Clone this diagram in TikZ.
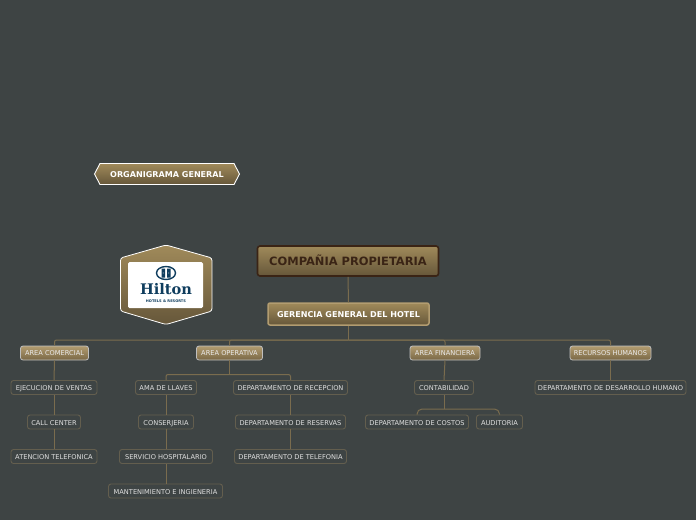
\documentclass[tikz,border=0pt]{standalone}
\usepackage{fontspec}
\usetikzlibrary{shapes.geometric}
\setmainfont{DejaVu Sans}
\newfontfamily\logofont{DejaVu Serif}
\definecolor{bgc}{HTML}{3E4444}
\definecolor{goldt}{HTML}{A08A5A}
\definecolor{goldb}{HTML}{66573A}
\definecolor{goldl}{HTML}{B29C70}
\definecolor{goldm}{HTML}{7A6846}
\definecolor{linec}{HTML}{7A6C4E}
\definecolor{kidb}{HTML}{635E4E}
\definecolor{darkb}{HTML}{3A2415}
\definecolor{navy}{HTML}{0F3D5E}
\tikzset{
  gold/.style={top color=goldt,bottom color=goldb,inner sep=0pt},
  conn/.style={draw=linec,line width=1pt,rounded corners=2pt},
  top/.style={gold,draw=darkb,line width=1.6pt,rounded corners=2.5pt,text=darkb,text height=9.1pt,text depth=0pt,font=\bfseries\fontsize{11.45}{13}\selectfont},
  mgr/.style={gold,draw=goldl,line width=1.5pt,rounded corners=2pt,text=white,text height=7pt,text depth=0pt,font=\bfseries\fontsize{8.05}{10}\selectfont},
  area/.style={top color=goldl,bottom color=goldm,draw=black!25,line width=.8pt,rounded corners=2.5pt,inner sep=0pt,text=white!92!black,text height=5.6pt,text depth=0pt,font=\fontsize{6.65}{8}\selectfont},
  kid/.style={fill=bgc,draw=kidb,line width=.9pt,rounded corners=2.5pt,inner sep=0pt,text=white!88!black,text height=6pt,text depth=0pt,font=\fontsize{6.65}{8}\selectfont},
}
\begin{document}
\begin{tikzpicture}[x=1pt,y=-1pt]
\path[use as bounding box,fill=bgc] (0,0) rectangle (696,520);
% title
\path[top color=goldt,bottom color=goldb,draw=white,line width=.9pt]
  (100,163.5) -- (234,163.5) -- (239.5,174) -- (234,184.5) -- (100,184.5) -- (94.5,174) -- cycle;
\node[text=white,text height=6.6pt,text depth=0pt,font=\bfseries\fontsize{8.05}{10}\selectfont,inner sep=0pt] (title) at (167,174) {ORGANIGRAMA GENERAL};
% logo
\path[top color=goldt,bottom color=goldb,draw=white,line width=.8pt,rounded corners=2.5pt]
  (166,245) -- (212,258) -- (212,311) -- (166,324.5) -- (120.5,311) -- (120.5,258) -- cycle;
\node[fill=white,rounded corners=1.5pt,minimum width=75pt,minimum height=46pt,inner sep=0pt] (logo) at (165.5,285) {};
\node[draw=navy,line width=1.4pt,fill=white,ellipse,minimum width=19pt,minimum height=13pt,inner sep=0pt] (oval) at (166,273) {};
\fill[navy] (161.5,268.5) rectangle (165,277.5) (167,268.5) rectangle (170.5,277.5);
\fill[white] (162.9,272.6) rectangle (163.6,273.4) (168.4,272.6) rectangle (169.1,273.4);
\node[text=navy,font=\logofont\bfseries\fontsize{14.6}{17}\selectfont,inner sep=0pt] (hilton) at (166,289.5) {Hilton};
\node[text=navy,font=\bfseries\fontsize{3.6}{4}\selectfont,inner sep=0pt] (hr) at (166,301.5) {HOTELS \& RESORTS};
% top nodes
\node[top,minimum width=181pt,minimum height=30pt] (cp) at (348,261) {COMPAÑIA PROPIETARIA};
\node[mgr,minimum width=161pt,minimum height=22pt] (gg) at (348.5,314) {GERENCIA GENERAL DEL HOTEL};
% areas
\node[area,minimum width=68pt,minimum height=14pt] (a1) at (54.5,353) {AREA COMERCIAL};
\node[area,minimum width=66pt,minimum height=14pt] (a2) at (229.5,353) {AREA OPERATIVA};
\node[area,minimum width=70pt,minimum height=14pt] (a3) at (445,353) {AREA FINANCIERA};
\node[area,minimum width=81pt,minimum height=14pt] (a4) at (610.5,353) {RECURSOS HUMANOS};
% children
\node[kid,minimum width=86pt,minimum height=14pt] (k1) at (54,387.5) {EJECUCION DE VENTAS};
\node[kid,minimum width=53pt,minimum height=14pt] (k2) at (54,422) {CALL CENTER};
\node[kid,minimum width=86pt,minimum height=14pt] (k3) at (54,456.5) {ATENCION TELEFONICA};
\node[kid,minimum width=61pt,minimum height=14pt] (o1) at (166,387.5) {AMA DE LLAVES};
\node[kid,minimum width=55pt,minimum height=14pt] (o2) at (166,422) {CONSERJERIA};
\node[kid,minimum width=93pt,minimum height=14pt] (o3) at (166,456.5) {SERVICIO HOSPITALARIO};
\node[kid,minimum width=114pt,minimum height=14pt] (o4) at (165.5,491) {MANTENIMIENTO E INGIENERIA};
\node[kid,minimum width=114pt,minimum height=14pt] (d1) at (290.5,387.5) {DEPARTAMENTO DE RECEPCION};
\node[kid,minimum width=110pt,minimum height=14pt] (d2) at (290.5,422) {DEPARTAMENTO DE RESERVAS};
\node[kid,minimum width=112pt,minimum height=14pt] (d3) at (290.5,456.5) {DEPARTAMENTO DE TELEFONIA};
\node[kid,minimum width=59pt,minimum height=14pt] (f1) at (444,387.5) {CONTABILIDAD};
\node[kid,minimum width=103pt,minimum height=14pt] (f2) at (417,422) {DEPARTAMENTO DE COSTOS};
\node[kid,minimum width=46pt,minimum height=14pt] (f3) at (499.5,422) {AUDITORIA};
\node[kid,minimum width=151pt,minimum height=14pt] (r1) at (610.5,387.5) {DEPARTAMENTO DE DESARROLLO HUMANO};
% junctions
\coordinate (bus) at (348.5,340);
\coordinate (opj) at (229.5,374.5);
\coordinate (finj) at (444,409);
% connectors
\draw[conn] (cp.south) -- (gg.north);
\draw[conn] (gg.south) -- (bus);
\draw[conn] (bus) -| (a1.north);
\draw[conn] (bus) -| (a2.north);
\draw[conn] (bus) -| (a3.north);
\draw[conn] (bus) -| (a4.north);
\draw[conn] (a1.south) -- (k1.north);
\draw[conn] (k1.south) -- (k2.north);
\draw[conn] (k2.south) -- (k3.north);
\draw[conn] (a2.south) -- (opj);
\draw[conn] (opj) -| (o1.north);
\draw[conn] (opj) -| (d1.north);
\draw[conn] (o1.south) -- (o2.north);
\draw[conn] (o2.south) -- (o3.north);
\draw[conn] (o3.south) -- (o3.south |- o4.north);
\draw[conn] (d1.south) -- (d2.north);
\draw[conn] (d2.south) -- (d3.north);
\draw[conn] (a3.south) -- (f1.north);
\draw[conn] (f1.south) -- (finj);
\draw[conn,rounded corners=5pt] (finj) -| (f2.north);
\draw[conn,rounded corners=5pt] (finj) -| (f3.north);
\draw[conn] (a4.south) -- (r1.north);
\end{tikzpicture}
\end{document}
